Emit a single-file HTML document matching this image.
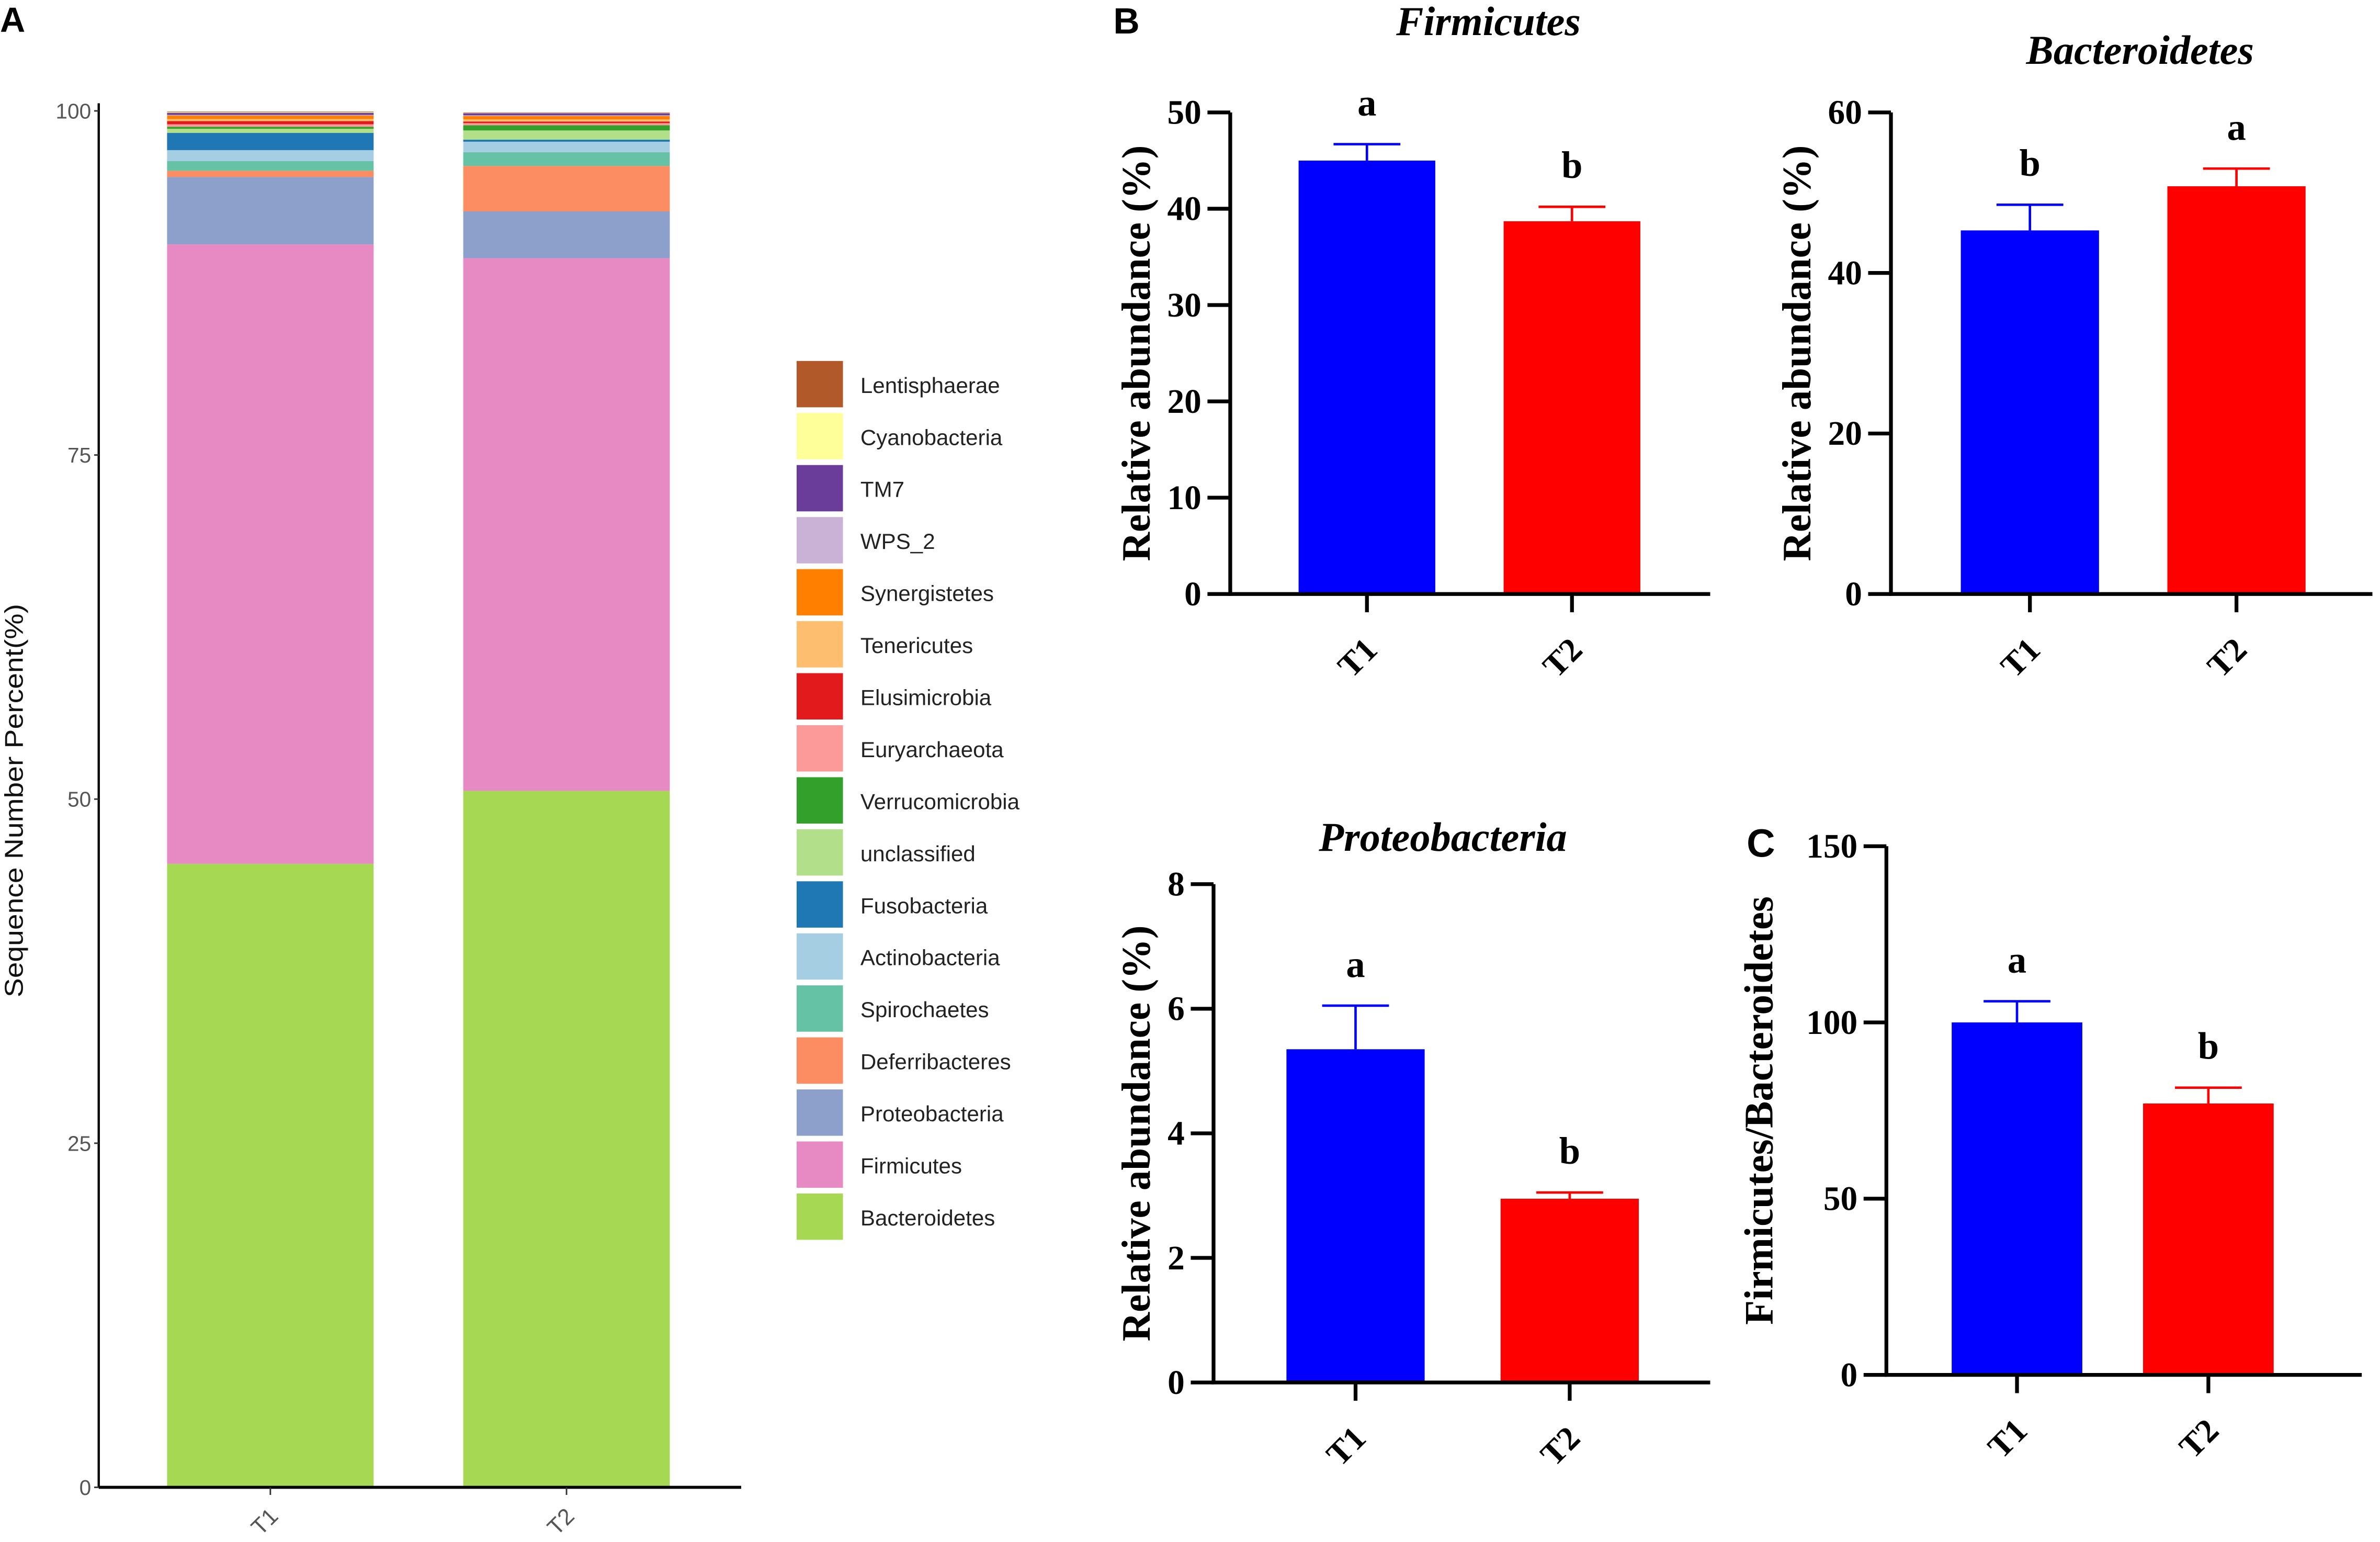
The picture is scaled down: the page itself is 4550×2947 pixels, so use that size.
<!DOCTYPE html>
<html><head><meta charset="utf-8"><style>
html,body{margin:0;padding:0;background:#fff;}
svg{display:block;}
</style></head><body>
<svg id="fig" xmlns="http://www.w3.org/2000/svg" width="4550" height="2947" viewBox="0 0 1567 1015" preserveAspectRatio="none">
<rect width="1567" height="1015" fill="#fff"/>
<g id="panelA"></g>
<g id="panelB"></g>
</svg>
<script>
// ---------- Panel A data ----------
const stackCats = ["T1","T2"];
const phyla = ["Bacteroidetes","Firmicutes","Proteobacteria","Deferribacteres","Spirochaetes","Actinobacteria","Fusobacteria","unclassified","Verrucomicrobia","Euryarchaeota","Elusimicrobia","Tenericutes","Synergistetes","WPS_2","TM7","Cyanobacteria","Lentisphaerae"];
const phylaColors = ["#a6d854","#e78ac3","#8da0cb","#fc8d62","#66c2a5","#a6cee3","#1f78b4","#b2df8a","#33a02c","#fb9a99","#e31a1c","#fdbf6f","#ff7f00","#cab2d6","#6a3d9a","#ffff99","#b15928"];
const t1Values = [45.3,45.0,4.9,0.45,0.7,0.8,1.25,0.3,0.15,0.18,0.23,0.15,0.25,0.05,0.15,0.05,0.04];
const t2Values = [50.6,38.7,3.4,3.3,1.0,0.76,0.15,0.67,0.38,0.15,0.12,0.15,0.25,0.05,0.15,0.03,0.03];
const stackTicks = [0,25,50,75,100];

// ---------- Panel B data ----------
const groups = ["T1","T2"];
const firmMeans = [45.0,38.7];
const firmErr = [1.7,1.5];
const firmLetters = ["a","b"];
const bactMeans = [45.3,50.8];
const bactErr = [3.2,2.2];
const bactLetters = ["b","a"];
const proteoMeans = [5.35,2.95];
const proteoErr = [0.7,0.1];
const proteoLetters = ["a","b"];
const ratioMeans = [100,77];
const ratioErr = [6,4.5];
const ratioLetters = ["a","b"];
const firmTicks = [0,10,20,30,40,50];
const bactTicks = [0,20,40,60];
const proteoTicks = [0,2,4,6,8];
const ratioTicks = [0,50,100,150];

const NS="http://www.w3.org/2000/svg";
function mk(parent,tag,attrs,text){const e=document.createElementNS(NS,tag);for(const k in attrs)e.setAttribute(k,attrs[k]);if(text!==undefined)e.textContent=text;parent.appendChild(e);return e;}

// ---------- Panel A ----------
const A=document.getElementById('panelA');
const ax0=65, ay0=979, ay100=73;
const yA=v=>ay0-(v/100)*(ay0-ay100);
const barX=[110,305], barW=136;
let t=mk(A,'text',{x:0,y:21,'font-family':'Liberation Sans, sans-serif','font-weight':'bold','font-size':23},'A');


[t1Values,t2Values].forEach((vals,gi)=>{
  let cum=0;
  vals.forEach((v,i)=>{
    const r=mk(A,'rect',{x:barX[gi],y:yA(cum+v),width:barW,height:Math.max(0,yA(cum)-yA(cum+v)),fill:phylaColors[i]});
    
    
    cum+=v;
  });
});
let l=mk(A,'line',{x1:ax0,y1:68,x2:ax0,y2:ay0,stroke:'#000','stroke-width':1.5});


l=mk(A,'line',{x1:ax0,y1:ay0,x2:488,y2:ay0,stroke:'#000','stroke-width':2});


stackTicks.forEach(v=>{
  mk(A,'line',{x1:ax0-3,y1:yA(v),x2:ax0,y2:yA(v),stroke:'#333','stroke-width':1});
  const tt=mk(A,'text',{x:ax0-5,y:yA(v)+5,'text-anchor':'end','font-family':'Liberation Sans, sans-serif','font-size':14,fill:'#555'},String(v));
  
  
});
stackCats.forEach((c,gi)=>{
  const cx=barX[gi]+barW/2;
  mk(A,'line',{x1:cx,y1:ay0,x2:cx,y2:ay0+5,stroke:'#333','stroke-width':1});
  const tt=mk(A,'text',{x:cx+6,y:ay0+20,'text-anchor':'end','font-family':'Liberation Sans, sans-serif','font-size':15,fill:'#555',transform:`rotate(-45 ${cx+6} ${ay0+20})`},c);
  
  
});
t=mk(A,'text',{x:15,y:527,'text-anchor':'middle','font-family':'Liberation Sans, sans-serif','font-size':17,fill:'#111',textLength:259,lengthAdjust:'spacingAndGlyphs',transform:'rotate(-90 15 527)'},'Sequence Number Percent(%)');


for(let k=0;k<phyla.length;k++){
  const i=phyla.length-1-k;
  const y=237.6+k*34.25;
  const g=mk(A,'g',{});
  
  
  mk(g,'rect',{x:524.5,y:y,width:30.5,height:30.5,fill:phylaColors[i]});
  mk(g,'text',{x:566.5,y:y+21,'font-family':'Liberation Sans, sans-serif','font-size':14.5,fill:'#222'},phyla[i]);
}

// ---------- Panel B ----------
const B=document.getElementById('panelB');
function barChart(cfg){
  const g=mk(B,'g',{});
  
  
  const ymax=cfg.ticks[cfg.ticks.length-1];
  const y=v=>cfg.y0-(v/ymax)*(cfg.y0-cfg.yTop);
  const colors=['#0000ff','#ff0000'];
  cfg.means.forEach((m,i)=>{
    const x=cfg.barX[i], w=cfg.barW, cx=x+w/2;
    const r=mk(g,'rect',{x:x,y:y(m),width:w,height:cfg.y0-y(m),fill:colors[i]});
    
    
    const e=mk(g,'path',{d:`M${cx} ${y(m)} V${y(m+cfg.err[i])} M${cx-22} ${y(m+cfg.err[i])} H${cx+22}`,stroke:colors[i],'stroke-width':1.6,fill:'none'});
    
    
    const lt=mk(g,'text',{x:cx,y:y(m+cfg.err[i])-19,'text-anchor':'middle','font-family':'Liberation Serif, serif','font-weight':'bold','font-size':25},cfg.letters[i]);
    
    
    mk(g,'line',{x1:cx,y1:cfg.y0,x2:cx,y2:cfg.y0+12,stroke:'#000','stroke-width':2.5});
    const xl=mk(g,'text',{x:cx+8,y:cfg.y0+38,'text-anchor':'end','font-family':'Liberation Serif, serif','font-weight':'bold','font-size':22,transform:`rotate(-45 ${cx+8} ${cfg.y0+38})`},groups[i]);
    
    
  });
  const ya=mk(g,'line',{x1:cfg.ax,y1:cfg.yTop,x2:cfg.ax,y2:cfg.y0+1.2,stroke:'#000','stroke-width':2.5});
  
  
  const xa=mk(g,'line',{x1:cfg.ax-1.2,y1:cfg.y0,x2:cfg.xEnd,y2:cfg.y0,stroke:'#000','stroke-width':2.5});
  
  
  cfg.ticks.forEach(v=>{
    mk(g,'line',{x1:cfg.ax-15,y1:y(v),x2:cfg.ax,y2:y(v),stroke:'#000','stroke-width':2.5});
    const tt=mk(g,'text',{x:cfg.ax-19,y:y(v)+7.5,'text-anchor':'end','font-family':'Liberation Serif, serif','font-weight':'bold','font-size':22.5},String(v));
    
    
  });
  const ty=(cfg.yTop+cfg.y0)/2;
  const yt=mk(g,'text',{x:cfg.titleX,y:ty,'text-anchor':'middle','font-family':'Liberation Serif, serif','font-weight':'bold','font-size':26.5,transform:`rotate(-90 ${cfg.titleX} ${ty})`},cfg.ytitle);
  
  
  if(cfg.title){
    const ct=mk(g,'text',{x:cfg.titleCX,y:cfg.titleY,'text-anchor':'middle','font-family':'Liberation Serif, serif','font-weight':'bold','font-style':'italic','font-size':27},cfg.title);
    
    
  }
}
barChart({name:'firmicutes-chart',ax:810,xEnd:1126,y0:391,yTop:74,ticks:firmTicks,means:firmMeans,err:firmErr,letters:firmLetters,barX:[855,990],barW:90,ytitle:'Relative abundance (%)',titleX:757,title:'Firmicutes',titleCX:980,titleY:23});
barChart({name:'bacteroidetes-chart',ax:1245,xEnd:1562,y0:391,yTop:74,ticks:bactTicks,means:bactMeans,err:bactErr,letters:bactLetters,barX:[1291,1427],barW:91,ytitle:'Relative abundance (%)',titleX:1192,title:'Bacteroidetes',titleCX:1409,titleY:42});
barChart({name:'proteobacteria-chart',ax:799,xEnd:1126,y0:910,yTop:582,ticks:proteoTicks,means:proteoMeans,err:proteoErr,letters:proteoLetters,barX:[847,988],barW:91,ytitle:'Relative abundance (%)',titleX:757,title:'Proteobacteria',titleCX:950,titleY:560});
barChart({name:'ratio-chart',ax:1242,xEnd:1555,y0:905,yTop:557,ticks:ratioTicks,means:ratioMeans,err:ratioErr,letters:ratioLetters,barX:[1285,1411],barW:86,ytitle:'Firmicutes/Bacteroidetes',titleX:1167});
t=mk(B,'text',{x:733,y:22,'font-family':'Liberation Sans, sans-serif','font-weight':'bold','font-size':24},'B');


t=mk(B,'text',{x:1150,y:564,'font-family':'Liberation Sans, sans-serif','font-weight':'bold','font-size':26},'C');


</script>
</body></html>
